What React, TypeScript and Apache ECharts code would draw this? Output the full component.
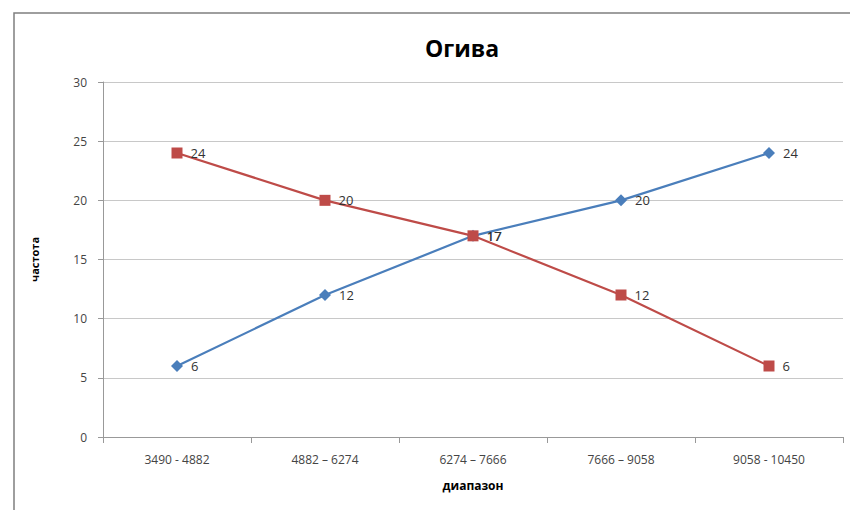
import React, { useEffect, useRef } from "react";
import * as echarts from "echarts";

const categories = ["3490 - 4882", "4882 – 6274", "6274 – 7666", "7666 – 9058", "9058 - 10450"];
const ascending = [6, 12, 17, 20, 24];
const descending = [24, 20, 17, 12, 6];
const yTicks = { min: 0, max: 30, interval: 5 };

export default function App() {
  const ref = useRef<HTMLDivElement>(null);
  useEffect(() => {
    const chart = echarts.init(ref.current!, null, { renderer: "svg" });
    const font = "'Open Sans', 'Noto Sans', sans-serif";
    const label = {
      show: true,
      position: "right" as const,
      distance: 8,
      color: "#333",
      fontSize: 13,
      fontFamily: font,
    };
    chart.setOption({
      animation: false,
      backgroundColor: "#fff",
      title: {
        text: "Огива",
        left: 457,
        textAlign: "center",
        top: 31,
        textStyle: { fontSize: 23, fontWeight: "bold", color: "#000", fontFamily: font },
      },
      graphic: [
        {
          type: "rect",
          shape: { x: 14, y: 13, width: 900, height: 600 },
          style: { fill: "none", stroke: "#7f7f7f", lineWidth: 1.5 },
          silent: true,
        },
      ],
      grid: { left: 103, right: 7, top: 82, bottom: 73 },
      xAxis: {
        type: "category",
        data: categories,
        boundaryGap: true,
        name: "диапазон",
        nameLocation: "middle",
        nameGap: 42,
        nameTextStyle: { fontSize: 12, fontWeight: "bold", color: "#000", fontFamily: font },
        axisLine: { lineStyle: { color: "#999" } },
        axisTick: { show: true, length: 6, lineStyle: { color: "#999" } },
        axisLabel: { color: "#444", fontSize: 12, margin: 16, fontFamily: font },
      },
      yAxis: {
        type: "value",
        min: yTicks.min,
        max: yTicks.max,
        interval: yTicks.interval,
        name: "частота",
        nameLocation: "middle",
        nameGap: 63,
        nameRotate: 90,
        nameTextStyle: { fontSize: 11, fontWeight: "bold", color: "#000", fontFamily: font },
        axisLine: { show: true, lineStyle: { color: "#999" } },
        axisTick: { show: true, length: 5, lineStyle: { color: "#999" } },
        axisLabel: { color: "#444", fontSize: 12, margin: 16, fontFamily: font },
        splitLine: { lineStyle: { color: "#c8c8c8" } },
      },
      series: [
        {
          type: "line",
          data: ascending,
          symbol: "diamond",
          symbolSize: 12,
          itemStyle: { color: "#4A7EBB" },
          lineStyle: { color: "#4A7EBB", width: 2.2 },
          label,
        },
        {
          type: "line",
          data: descending,
          symbol: "rect",
          symbolSize: 11,
          itemStyle: { color: "#BE4B48" },
          lineStyle: { color: "#BE4B48", width: 2.2 },
          label,
        },
      ],
    });
    return () => chart.dispose();
  }, []);
  return (
    <div
      ref={ref}
      style={{ position: "fixed", left: 0, top: 0, width: 850, height: 510 }}
    />
  );
}
